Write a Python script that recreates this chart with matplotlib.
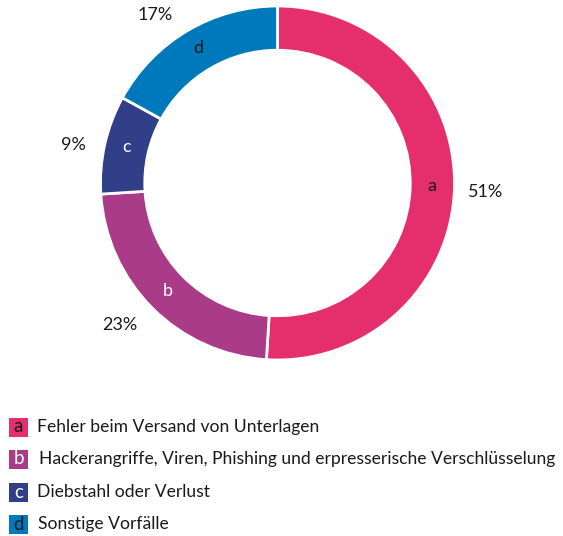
import matplotlib
matplotlib.use("Agg")
import matplotlib.pyplot as plt
from matplotlib.patches import Rectangle
import numpy as np

plt.rcParams['font.family'] = ['Lato', 'DejaVu Sans']

letters = ['a', 'b', 'c', 'd']
values = [51, 23, 9, 17]
categories = ['Fehler beim Versand von Unterlagen',
              'Hackerangriffe, Viren, Phishing und erpresserische Verschlüsselung',
              'Diebstahl oder Verlust',
              'Sonstige Vorfälle']
colors = ['#E42F6C', '#A93B89', '#313F89', '#0079BC']
letter_colors = ['#1a1a1a', 'white', 'white', '#1a1a1a']

W, H = 563, 536
fig = plt.figure(figsize=(W / 100, H / 100), dpi=100)
ax = fig.add_axes([0, 0, 1, 1])

cx, cy, R = 277.5, 183.0, 177.0
wedges, _ = ax.pie(values, startangle=90, counterclock=False, radius=1,
                   colors=colors,
                   wedgeprops=dict(width=0.25, edgecolor='white', linewidth=2))
ax.set_aspect('auto')
ax.set_xlim(-cx / R, (W - cx) / R)
ax.set_ylim(-(H - cy) / R, cy / R)
ax.axis('off')

# percentage label placement (polar, in units of the outer radius)
pct_r = [1.175, 1.20, 1.175, 1.175]
pct_ang = [-2.5, 222.0, 169.5, 126.0]

total = sum(values)
start = 90.0
for i, (v, lt, lc) in enumerate(zip(values, letters, letter_colors)):
    ang = start - v / total * 360 / 2
    start -= v / total * 360
    t = np.deg2rad(ang)
    ax.text(0.875 * np.cos(t), 0.875 * np.sin(t) + 0.01, lt, ha='center', va='center',
            fontsize=13, color=lc)
    tp = np.deg2rad(pct_ang[i])
    ax.text(pct_r[i] * np.cos(tp), pct_r[i] * np.sin(tp), f'{v}%', ha='center',
            va='center', fontsize=13, color='#1a1a1a')

# Legend
ys = [427, 459, 492, 524]
xs_text = [37, 39, 37, 38]
for y, xt, lt, cat, col, lc in zip(ys, xs_text, letters, categories, colors, letter_colors):
    sq = 19
    fig.add_artist(Rectangle((9 / W, 1 - (y + sq / 2) / H), sq / W, sq / H,
                             transform=fig.transFigure, facecolor=col,
                             edgecolor='none'))
    fig.text((9 + sq / 2) / W, 1 - y / H, lt, ha='center', va='center',
             fontsize=13.5, color=lc)
    fig.text(xt / W, 1 - y / H, cat, ha='left', va='center',
             fontsize=12.6, color='#1a1a1a')

fig.savefig('out.png', dpi=100)
